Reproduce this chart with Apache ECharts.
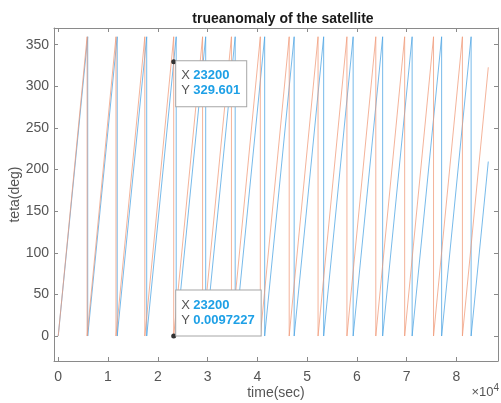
<!DOCTYPE html>
<html>
<head>
<meta charset="utf-8">
<script src="https://cdn.jsdelivr.net/npm/echarts@6/dist/echarts.min.js"></script>
<style>
html,body{margin:0;padding:0;background:#fff;}
#chart{width:501px;height:403px;}
</style>
</head>
<body>
<div id="chart"></div>
<script>
// ---- data ----
// times (sec) at which each series wraps from ~360 back to 0
var blueWrapTimes   = [5925, 11850, 17775, 23700, 29625, 35550, 41475, 47400, 53325, 59250, 65175, 71100, 77025, 82950];
var orangeWrapTimes = [5800, 11600, 17400, 23200, 29000, 34800, 40600, 46400, 52200, 58000, 63800, 69600, 75400, 81200];
var startTime = 0;
var endTime = 86400;
var peakValue = 359.5;
var blueEndValue = 209.6;
var orangeEndValue = 322.8;
// data tips
var tipX = [23200, 23200];
var tipY = [329.601, 0.0097227];
var tipLabels = ['329.601', '0.0097227'];
// axis ticks
var xTicks = [0, 10000, 20000, 30000, 40000, 50000, 60000, 70000, 80000];
var yTicks = [0, 50, 100, 150, 200, 250, 300, 350];

function sawtooth(wraps, endVal) {
  var pts = [[startTime, 0]];
  wraps.forEach(function (t) { pts.push([t, peakValue]); pts.push([t, 0]); });
  pts.push([endTime, endVal]);
  return pts;
}

var axisColor = '#8a8a8a';
var labelColor = '#555555';
var font = 'Liberation Sans, Arial, sans-serif';

function tipLabel(i, pos) {
  return {
    show: true,
    position: pos,
    formatter: '{k|X} {v|' + tipX[i] + '}\n{k|Y} {v|' + tipLabels[i] + '}',
    backgroundColor: '#fff',
    borderColor: '#a6a6a6',
    borderWidth: 1,
    padding: [7, 6, 8, 5],
    lineHeight: 15,
    rich: {
      k: {color: '#555', fontSize: 13, fontFamily: font, lineHeight: 15},
      v: {color: '#1ea0e6', fontSize: 13, fontWeight: 'bold', fontFamily: font, lineHeight: 15}
    }
  };
}

function axisCommon(ticks) {
  return {
    axisLine: {show: true, onZero: false, lineStyle: {color: axisColor, width: 1}},
    axisTick: {show: true, inside: true, length: 4, customValues: ticks, lineStyle: {color: axisColor}},
    splitLine: {show: false}
  };
}

var chart = echarts.init(document.getElementById('chart'), null, {renderer: 'canvas'});
chart.setOption({
  animation: false,
  backgroundColor: '#fff',
  title: {
    text: 'trueanomaly of the satellite',
    left: 278, top: 7, textAlign: 'center',
    textStyle: {fontSize: 14, fontWeight: 'bold', color: '#1a1a1a', fontFamily: font}
  },
  grid: {left: 54, right: 3, top: 28, bottom: 42, containLabel: false, outerBoundsMode: 'none'},
  xAxis: [Object.assign({
    type: 'value', min: -850, max: 88350, position: 'bottom',
    name: 'time(sec)', nameLocation: 'middle', nameGap: 25, nameMoveOverlap: false,
    nameTextStyle: {fontSize: 14, color: labelColor, fontFamily: font},
    axisLabel: {customValues: xTicks, formatter: function (v) { return String(v / 10000); }, fontSize: 14, color: labelColor, margin: 9, fontFamily: font}
  }, axisCommon(xTicks)), Object.assign({
    type: 'value', min: -850, max: 88350, position: 'top',
    axisLabel: {show: false}
  }, axisCommon(xTicks))],
  yAxis: [Object.assign({
    type: 'value', min: -30, max: 370, position: 'left',
    name: 'teta(deg)', nameLocation: 'middle', nameGap: 32, nameMoveOverlap: false,
    nameTextStyle: {fontSize: 14, color: labelColor, fontFamily: font},
    axisLabel: {customValues: yTicks, fontSize: 14, color: labelColor, margin: 5, fontFamily: font}
  }, axisCommon(yTicks)), Object.assign({
    type: 'value', min: -30, max: 370, position: 'right',
    axisLabel: {show: false}
  }, axisCommon(yTicks))],
  graphic: [{
    type: 'text', right: 2, bottom: 4,
    style: {
      text: '×10{s|4}', fill: labelColor, fontSize: 13, fontFamily: font,
      rich: {s: {fontSize: 10, verticalAlign: 'top', padding: [0, 0, 8, 0], fill: labelColor}}
    }
  }],
  series: [{
    type: 'line', name: 'blue', data: sawtooth(blueWrapTimes, blueEndValue),
    showSymbol: false, lineStyle: {color: '#4aa3e3', width: 1, opacity: 0.75}, itemStyle: {color: '#4aa3e3'},
    z: 2,
    markPoint: {
      symbol: 'circle', symbolSize: 5, itemStyle: {color: '#333'},
      data: [{coord: [tipX[0], tipY[0]], label: tipLabel(0, [5, 2])}]
    }
  }, {
    type: 'line', name: 'orange', data: sawtooth(orangeWrapTimes, orangeEndValue),
    showSymbol: false, lineStyle: {color: '#f09a78', width: 1, opacity: 0.75}, itemStyle: {color: '#f09a78'},
    z: 3,
    markPoint: {
      symbol: 'circle', symbolSize: 5, itemStyle: {color: '#333'},
      data: [{coord: [tipX[1], tipY[1]], label: tipLabel(1, [5, -43])}]
    }
  }]
});
</script>
</body>
</html>
